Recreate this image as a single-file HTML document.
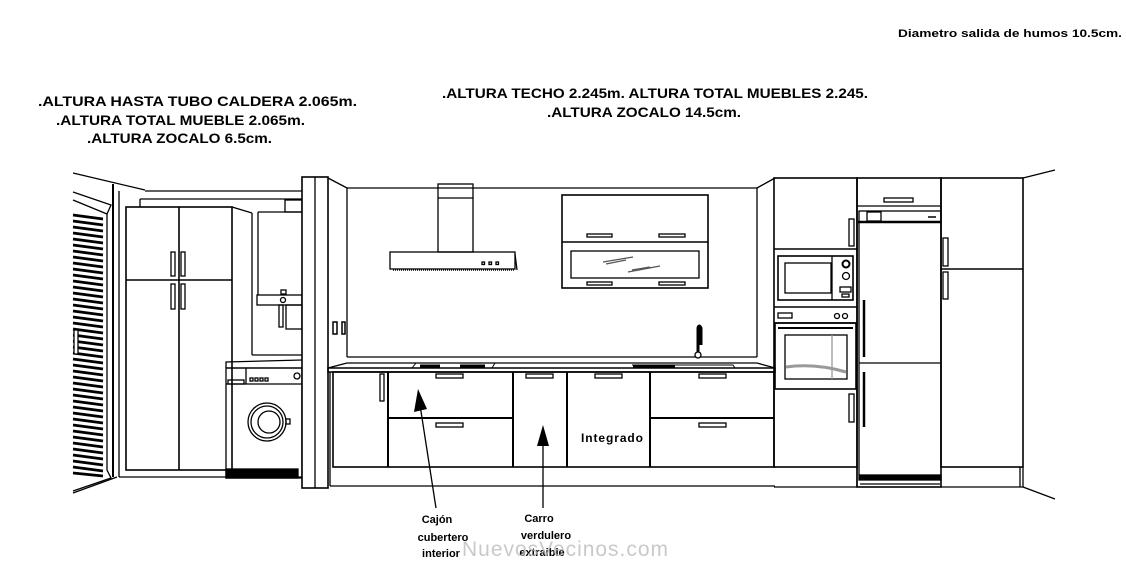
<!DOCTYPE html>
<html><head><meta charset="utf-8"><style>
html,body{margin:0;padding:0;background:#fff;width:1126px;height:576px;overflow:hidden}
svg{display:block}
text{font-family:"Liberation Sans",sans-serif;font-weight:bold}
</style></head><body>
<svg width="1126" height="576" viewBox="0 0 1126 576" xmlns="http://www.w3.org/2000/svg">
<g fill="none" stroke="#000" stroke-width="1.3">
<!-- left wall -->
<line x1="73" y1="173" x2="145" y2="190"/>
<line x1="145" y1="191" x2="302" y2="191"/>
<line x1="140" y1="199" x2="302" y2="199"/>
<line x1="140" y1="199" x2="140" y2="207"/>
<line x1="73" y1="493" x2="117" y2="477"/>
<line x1="113" y1="184" x2="113" y2="477" stroke-width="2"/>
<line x1="119" y1="191" x2="119" y2="477"/>
<line x1="119" y1="477" x2="302" y2="477"/>
<!-- louvre door -->
<path d="M73 192 L111 205 L107 214 L107 470 L111 478 L73 491"/>
<line x1="73" y1="200" x2="107" y2="214"/>
<g stroke-width="2.8">
<line x1="73" y1="215" x2="103" y2="219"/><line x1="73" y1="221" x2="103" y2="225"/><line x1="73" y1="227" x2="103" y2="231"/><line x1="73" y1="233" x2="103" y2="237"/><line x1="73" y1="239" x2="103" y2="243"/><line x1="73" y1="245" x2="103" y2="249"/><line x1="73" y1="251" x2="103" y2="255"/><line x1="73" y1="257" x2="103" y2="261"/><line x1="73" y1="263" x2="103" y2="267"/><line x1="73" y1="269" x2="103" y2="273"/><line x1="73" y1="275" x2="103" y2="279"/><line x1="73" y1="281" x2="103" y2="285"/><line x1="73" y1="287" x2="103" y2="291"/><line x1="73" y1="293" x2="103" y2="297"/><line x1="73" y1="299" x2="103" y2="303"/><line x1="73" y1="305" x2="103" y2="309"/><line x1="73" y1="311" x2="103" y2="315"/><line x1="73" y1="317" x2="103" y2="321"/><line x1="73" y1="323" x2="103" y2="327"/><line x1="73" y1="329" x2="103" y2="333"/><line x1="73" y1="335" x2="103" y2="339"/><line x1="73" y1="341" x2="103" y2="345"/><line x1="73" y1="347" x2="103" y2="351"/><line x1="73" y1="353" x2="103" y2="357"/><line x1="73" y1="359" x2="103" y2="363"/><line x1="73" y1="365" x2="103" y2="369"/><line x1="73" y1="371" x2="103" y2="375"/><line x1="73" y1="377" x2="103" y2="381"/><line x1="73" y1="383" x2="103" y2="387"/><line x1="73" y1="389" x2="103" y2="393"/><line x1="73" y1="395" x2="103" y2="399"/><line x1="73" y1="401" x2="103" y2="405"/><line x1="73" y1="407" x2="103" y2="411"/><line x1="73" y1="413" x2="103" y2="417"/><line x1="73" y1="419" x2="103" y2="423"/><line x1="73" y1="425" x2="103" y2="429"/><line x1="73" y1="431" x2="103" y2="435"/><line x1="73" y1="437" x2="103" y2="441"/><line x1="73" y1="443" x2="103" y2="447"/><line x1="73" y1="449" x2="103" y2="453"/><line x1="73" y1="455" x2="103" y2="459"/><line x1="73" y1="461" x2="103" y2="465"/><line x1="73" y1="467" x2="103" y2="471"/><line x1="73" y1="473" x2="103" y2="476"/>
</g>
<rect x="74" y="330" width="4" height="24" fill="#fff"/>
<!-- tall cabinet left -->
<rect x="126" y="207" width="106" height="263" stroke-width="1.6"/>
<line x1="179" y1="207" x2="179" y2="470" stroke-width="1.6"/>
<line x1="126" y1="280" x2="232" y2="280" stroke-width="1.6"/>
<rect x="171" y="252" width="4" height="24"/><rect x="181" y="252" width="4" height="24"/>
<rect x="171" y="284" width="4" height="25"/><rect x="181" y="284" width="4" height="25"/>
<line x1="232" y1="207" x2="252" y2="213"/>
<line x1="252" y1="213" x2="252" y2="355"/>
<line x1="252" y1="355" x2="302" y2="355"/>
<!-- boiler -->
<line x1="258" y1="212" x2="258" y2="295"/>
<line x1="258" y1="212" x2="302" y2="212"/>
<rect x="285" y="200" width="17" height="12"/>
<rect x="257" y="295" width="45" height="10"/>
<rect x="281" y="290" width="5" height="4"/>
<circle cx="283" cy="300" r="2.5"/>
<rect x="279" y="305" width="4" height="22"/><rect x="286" y="305" width="16" height="24"/>
<!-- washer -->
<path d="M226 368 L226 362 L302 360"/>
<line x1="226" y1="368" x2="302" y2="368"/>
<rect x="226" y="368" width="76" height="110"/>
<line x1="226" y1="384" x2="302" y2="384"/>
<line x1="246" y1="368" x2="246" y2="384"/>
<rect x="228" y="380" width="16" height="4"/>
<rect x="250" y="378" width="3" height="3"/><rect x="255" y="378" width="3" height="3"/><rect x="260" y="378" width="3" height="3"/><rect x="265" y="378" width="3" height="3"/>
<circle cx="297" cy="376" r="3"/>
<circle cx="267" cy="422" r="19"/><circle cx="267" cy="422" r="16"/><circle cx="269" cy="422" r="11"/>
<rect x="286" y="419" width="4" height="5"/>
<rect x="226" y="469" width="72" height="9" fill="#000"/>
<!-- pillar -->
<rect x="302" y="177" width="26" height="311" fill="#fff" stroke-width="1.6"/>
<line x1="315" y1="177" x2="315" y2="488"/>
<!-- back wall -->
<line x1="328" y1="178" x2="347" y2="188"/>
<line x1="347" y1="188" x2="757" y2="188"/>
<line x1="347" y1="188" x2="347" y2="357"/>
<line x1="757" y1="188" x2="757" y2="357"/>
<line x1="757" y1="188" x2="775" y2="178"/>
<line x1="347" y1="357" x2="757" y2="357"/>
<line x1="347" y1="363" x2="757" y2="363"/>
<line x1="328" y1="368" x2="347" y2="363"/><line x1="757" y1="363" x2="775" y2="368"/>
<rect x="333" y="322" width="4" height="12" stroke-width="1.5"/><rect x="342" y="322" width="3" height="12" stroke-width="1.5"/>
<!-- countertop -->
<rect x="328" y="368" width="447" height="4" stroke-width="1.5"/>
<path d="M412 368 L416 363 L495 363 L492 368" stroke-width="1"/>
<line x1="420" y1="366" x2="440" y2="366" stroke-width="3"/><line x1="460" y1="366" x2="485" y2="366" stroke-width="3"/>
<path d="M632 365 L733 365 L735 368" stroke-width="1"/>
<line x1="633" y1="366" x2="675" y2="366" stroke-width="3"/>
<!-- faucet -->
<path d="M698 357 L698 328 Q699 324 701 328 L701 345" stroke-width="3"/>
<circle cx="698" cy="355" r="3" fill="#fff"/>
<!-- base cabinets -->
<rect x="333" y="372" width="441" height="95" stroke-width="1.6"/>
<g stroke-width="2"><line x1="388" y1="372" x2="388" y2="467"/><line x1="513" y1="372" x2="513" y2="467"/><line x1="567" y1="372" x2="567" y2="467"/><line x1="650" y1="372" x2="650" y2="467"/>
<line x1="388" y1="418" x2="513" y2="418"/><line x1="650" y1="418" x2="774" y2="418"/></g>
<line x1="330" y1="372" x2="330" y2="486"/>
<rect x="380" y="374" width="4" height="27"/>
<rect x="436" y="374" width="27" height="4"/><rect x="436" y="423" width="27" height="4"/>
<rect x="526" y="374" width="27" height="4"/><rect x="595" y="374" width="27" height="4"/>
<rect x="699" y="374" width="27" height="4"/><rect x="699" y="423" width="27" height="4"/>
<line x1="330" y1="486" x2="775" y2="486"/>
<!-- hood -->
<rect x="438" y="184" width="35" height="68"/>
<line x1="438" y1="198" x2="473" y2="198"/>
<rect x="390" y="252" width="125" height="17"/>
<line x1="515" y1="254" x2="517" y2="270"/>
<line x1="393" y1="270" x2="515" y2="270" stroke-dasharray="1 1" stroke-width="1.5"/>
<rect x="482" y="262" width="2.5" height="2.5"/><rect x="489" y="262" width="2.5" height="2.5"/><rect x="496" y="262" width="2.5" height="2.5"/>
<!-- wall cabinet -->
<rect x="562" y="195" width="146" height="93" stroke-width="1.6"/>
<line x1="562" y1="242" x2="708" y2="242" stroke-width="1.6"/>
<rect x="571" y="251" width="128" height="27"/>
<rect x="587" y="234" width="25" height="3"/><rect x="659" y="234" width="26" height="3"/>
<rect x="587" y="282" width="25" height="3"/><rect x="659" y="282" width="26" height="3"/>
<line x1="603" y1="262" x2="633" y2="257" stroke="#555"/><line x1="606" y1="264" x2="626" y2="260" stroke="#555"/>
<line x1="628" y1="272" x2="660" y2="266" stroke="#555"/><line x1="632" y1="270" x2="650" y2="267" stroke="#555"/>
<!-- oven column -->
<rect x="774" y="178" width="83" height="289" stroke-width="1.6"/>
<line x1="774" y1="249" x2="857" y2="249" stroke-width="1.6"/>
<rect x="849" y="219" width="5" height="27"/>
<rect x="778" y="256" width="75" height="44" stroke-width="1.6"/>
<rect x="785" y="263" width="46" height="30"/>
<line x1="832" y1="256" x2="832" y2="300"/>
<circle cx="846" cy="264" r="3.5" stroke-width="2"/><circle cx="846" cy="276" r="3.5"/>
<rect x="840" y="287" width="11" height="5"/><rect x="842" y="294" width="7" height="3"/>
<line x1="774" y1="307" x2="857" y2="307" stroke-width="1.6"/>
<rect x="778" y="313" width="14" height="5"/>
<circle cx="837" cy="316" r="2.5"/><circle cx="845" cy="316" r="2.5"/>
<line x1="774" y1="323" x2="857" y2="323" stroke-width="1.6"/>
<rect x="775" y="323" width="81" height="66" stroke-width="1.6"/>
<line x1="778" y1="328" x2="853" y2="328" stroke-width="2"/>
<rect x="785" y="335" width="62" height="44"/>
<path d="M786 367 Q815 363 846 372" stroke="#999" stroke-width="3"/>
<line x1="832" y1="335" x2="832" y2="379" stroke="#999"/>
<rect x="849" y="394" width="5" height="28"/>
<line x1="774" y1="487" x2="857" y2="487"/><line x1="857" y1="467" x2="857" y2="487"/>
<!-- fridge column -->
<rect x="857" y="178" width="84" height="309" stroke-width="1.6"/>
<line x1="857" y1="206" x2="941" y2="206"/>
<rect x="884" y="198" width="29" height="4"/>
<rect x="859" y="211" width="82" height="11"/>
<rect x="867" y="212" width="14" height="9"/>
<line x1="928" y1="217" x2="936" y2="217" stroke-width="1.5"/>
<line x1="858" y1="222" x2="941" y2="222" stroke-width="2.5"/>
<line x1="859" y1="222" x2="859" y2="475"/>
<line x1="859" y1="363" x2="941" y2="363"/>
<line x1="864" y1="300" x2="864" y2="357" stroke-width="2.5"/>
<line x1="864" y1="372" x2="864" y2="427" stroke-width="2.5"/>
<rect x="859" y="475" width="82" height="5" fill="#000"/>
<line x1="860" y1="484" x2="940" y2="484"/>
<!-- right tall -->
<rect x="941" y="178" width="82" height="289" stroke-width="1.6"/>
<line x1="941" y1="269" x2="1023" y2="269" stroke-width="1.6"/>
<rect x="943" y="238" width="5" height="28"/><rect x="943" y="272" width="5" height="27"/>
<line x1="941" y1="487" x2="1023" y2="487"/>
<line x1="1020" y1="467" x2="1020" y2="487"/><line x1="1023" y1="467" x2="1023" y2="487"/>
<line x1="1023" y1="178" x2="1055" y2="170"/><line x1="1023" y1="487" x2="1055" y2="499"/>
<!-- arrows -->
<line x1="420" y1="405" x2="436" y2="508"/>
<line x1="543" y1="440" x2="543" y2="508"/>
</g>
<polygon points="418,389 414,412 427,409" fill="#000"/>
<polygon points="543,425 537,446 549,446" fill="#000"/>
<!-- text -->
<text x="898" y="37" font-size="11" textLength="224" lengthAdjust="spacingAndGlyphs">Diametro salida de humos 10.5cm.</text>
<text x="38" y="106" font-size="14" textLength="319" lengthAdjust="spacingAndGlyphs">.ALTURA HASTA TUBO CALDERA 2.065m.</text>
<text x="56" y="125" font-size="14" textLength="249" lengthAdjust="spacingAndGlyphs">.ALTURA TOTAL MUEBLE 2.065m.</text>
<text x="87" y="143" font-size="14" textLength="185" lengthAdjust="spacingAndGlyphs">.ALTURA ZOCALO 6.5cm.</text>
<text x="442" y="98" font-size="14" textLength="426" lengthAdjust="spacingAndGlyphs">.ALTURA TECHO 2.245m. ALTURA TOTAL MUEBLES 2.245.</text>
<text x="547" y="117" font-size="14" textLength="194" lengthAdjust="spacingAndGlyphs">.ALTURA ZOCALO 14.5cm.</text>
<text x="581" y="442" font-size="12" textLength="62">Integrado</text>
<g font-size="11" text-anchor="middle">
<text x="437" y="523">Cajón</text><text x="443" y="541">cubertero</text><text x="441" y="557">interior</text>
<text x="539" y="522">Carro</text><text x="546" y="539">verdulero</text><text x="542" y="556">extraible</text>
</g>
<text x="462" y="556" font-size="21" fill="#bbb" fill-opacity="0.8" textLength="206" style="font-weight:normal">NuevosVecinos.com</text>
</svg>
</body></html>
